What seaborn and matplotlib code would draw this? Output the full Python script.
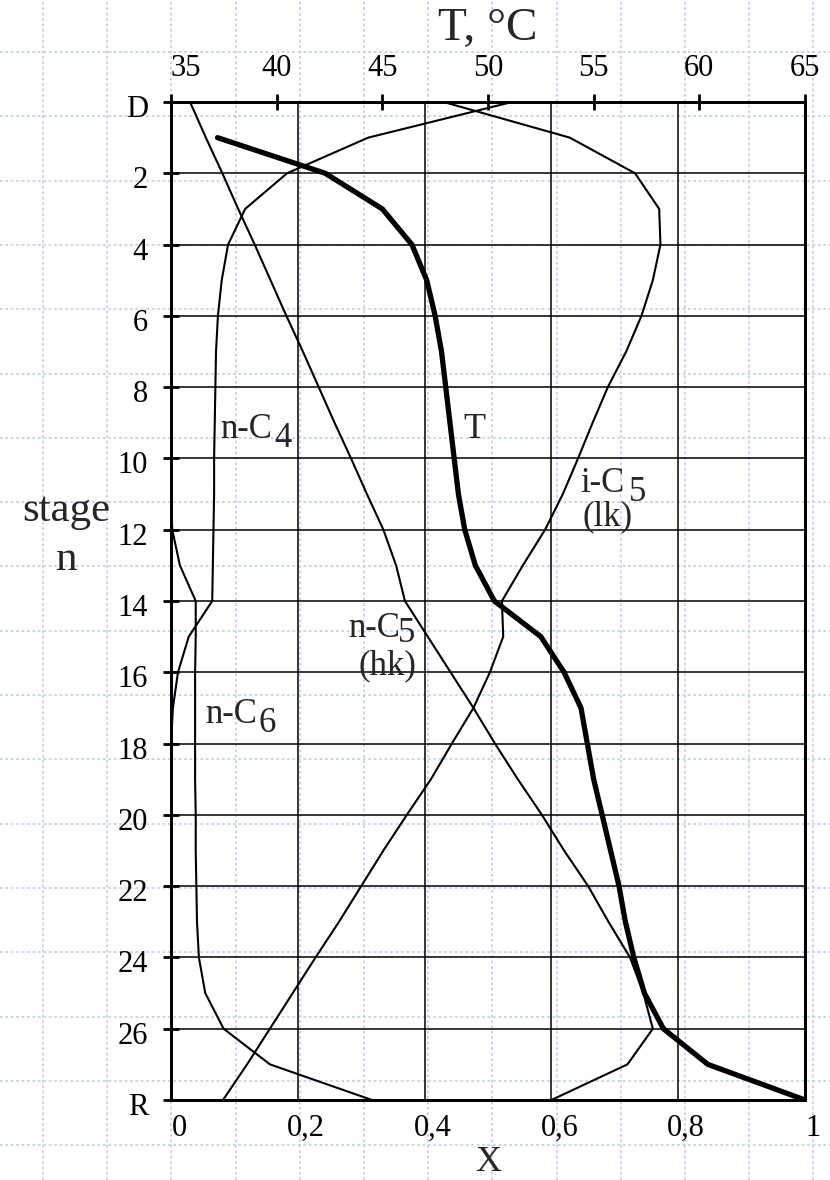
import matplotlib
matplotlib.use("Agg")
import matplotlib.pyplot as plt
import matplotlib.transforms as mtransforms
import numpy as np
import pandas as pd
import seaborn as sns

# ---- column profile data -------------------------------------------------
stages = list(range(29))                      # D = 0 ... R = 28
stage_ticks = list(range(0, 29, 2))
stage_labels = ["D"] + [str(s) for s in range(2, 28, 2)] + ["R"]
x_ticks = [0, 0.2, 0.4, 0.6, 0.8, 1.0]
x_tick_labels = ["0", "0,2", "0,4", "0,6", "0,8", "1"]
t_ticks = [35, 40, 45, 50, 55, 60, 65]

# liquid mole fractions on each stage
x_nC4 = [0.538, 0.311, 0.183, 0.117, 0.090, 0.080, 0.074, 0.071, 0.070, 0.069,
         0.068, 0.068, 0.067, 0.066, 0.065, 0.028, 0.011, 0.003, 0.0, 0.0,
         0.0, 0.0, 0.0, 0.0, 0.0, 0.0, 0.0, 0.0, 0.0]
x_iC5 = [0.430, 0.629, 0.732, 0.770, 0.772, 0.760, 0.742, 0.718, 0.689, 0.665,
         0.642, 0.618, 0.590, 0.555, 0.522, 0.524, 0.503, 0.477, 0.443, 0.410,
         0.372, 0.335, 0.300, 0.265, 0.228, 0.192, 0.156, 0.120, 0.082]
x_nC5 = [0.030, 0.055, 0.081, 0.106, 0.132, 0.157, 0.182, 0.208, 0.233, 0.258,
         0.284, 0.309, 0.335, 0.355, 0.369, 0.405, 0.441, 0.477, 0.511, 0.547,
         0.585, 0.620, 0.658, 0.690, 0.724, 0.745, 0.760, 0.720, 0.600]
x_nC6 = [0.0, 0.0, 0.0, 0.0, 0.0, 0.0, 0.0, 0.0, 0.0, 0.0,
         0.0, 0.0, 0.002, 0.014, 0.039, 0.039, 0.038, 0.038, 0.038, 0.038,
         0.039, 0.039, 0.040, 0.041, 0.044, 0.054, 0.083, 0.156, 0.317]

# stage temperature, deg C
t_stages = list(range(1, 29))
temp_C = [37.2, 42.3, 45.0, 46.4, 47.1, 47.5, 47.8, 48.0, 48.2, 48.4,
          48.6, 48.9, 49.4, 50.3, 52.5, 53.6, 54.4, 54.7, 55.0, 55.4,
          55.8, 56.2, 56.5, 56.9, 57.4, 58.3, 60.4, 65.0]

comp = pd.DataFrame({
    "stage": stages * 4,
    "x": x_nC4 + x_iC5 + x_nC5 + x_nC6,
    "component": ["n-C4"] * 29 + ["i-C5"] * 29 + ["n-C5"] * 29 + ["n-C6"] * 29,
})
temps = pd.DataFrame({"stage": t_stages, "T": temp_C})

# ---- style ---------------------------------------------------------------
sns.set_style("white")
plt.rcParams["font.family"] = ["Liberation Serif", "DejaVu Serif"]

W, H = 830, 1180
fig = plt.figure(figsize=(W / 100, H / 100), dpi=100)

# squared paper behind everything
bg = fig.add_axes([0, 0, 1, 1], zorder=-1)
bg.set_xlim(0, W)
bg.set_ylim(H, 0)
bg.axis("off")
paper = "#c3d1f3"
for px in np.arange(43, W, 64.2):
    bg.axvline(px, color=paper, lw=1.3, ls=(0, (1.5, 1.5)))
for py in np.arange(52, H, 64.3):
    bg.axhline(py, color=paper, lw=1.3, ls=(0, (1.5, 1.5)))

# main axes: composition x vs stage
ax = fig.add_axes([171 / W, 1 - 1100 / H, 634 / W, 998 / H], zorder=1)
ax.patch.set_visible(False)
sns.lineplot(data=comp, x="x", y="stage", units="component", estimator=None,
             sort=False, color="black", lw=1.5, ax=ax, legend=False)

ax.set_xlim(0, 1)
ax.set_ylim(28, 0)
ax.set_xticks(x_ticks)
ax.set_xticklabels(x_tick_labels)
ax.set_yticks(stage_ticks)
ax.set_yticklabels(stage_labels)
ax.grid(True, color="black", lw=1.1)
ax.set_axisbelow(True)
for s in ax.spines.values():
    s.set_visible(True)
    s.set_color("black")
    s.set_linewidth(2.0)

ax.tick_params(axis="x", length=0, labelsize=22, pad=10, colors="black")
ax.tick_params(axis="y", direction="inout", length=12, width=2, labelsize=22,
               pad=10.5, colors="black", left=True)
ax.set_xlabel("X", fontsize=26, labelpad=2)
ax.set_ylabel("stage\nn", fontsize=31, rotation=0, linespacing=1.35,
              ha="center", va="center")
ax.yaxis.set_label_coords(-0.165, 0.566)

# nudge tick labels as set in the original layout
shift_r = mtransforms.ScaledTranslation(8 / 100, 0, fig.dpi_scale_trans)
for lab in ax.get_xticklabels():
    lab.set_transform(lab.get_transform() + shift_r)
shift_d = mtransforms.ScaledTranslation(0, -4 / 100, fig.dpi_scale_trans)
for lab in ax.get_yticklabels():
    lab.set_transform(lab.get_transform() + shift_d)

# temperature on the top axis
axT = ax.twiny()
axT.set_zorder(2)
axT.patch.set_visible(False)
sns.lineplot(data=temps, x="T", y="stage", estimator=None, sort=False,
             color="black", lw=3.8, ax=axT, legend=False)
axT.set_xlim(35, 65)
axT.set_ylim(28, 0)
axT.set_xticks(t_ticks)
axT.set_xticklabels([str(t) for t in t_ticks])
axT.tick_params(axis="x", direction="inout", length=12, width=2, labelsize=22,
                pad=8, colors="black", top=True)
axT.set_xlabel("T, °C", fontsize=34, labelpad=10)
axT.set_ylabel("")
for s in axT.spines.values():
    s.set_color("black")
    s.set_linewidth(2.0)
axT.get_xticklabels()[0].set_ha("left")

# curve names
def species(x, y, base, sub, gap, drop=-9):
    t = ax.text(x, y, base, fontsize=25, ha="left", va="baseline")
    ax.annotate(sub, xy=(1, 0), xycoords=t, xytext=(gap, drop),
                textcoords="offset pixels", fontsize=25, ha="left", va="bottom")

species(0.077, 9.43, "n-C", "4", 3)
species(0.645, 10.94, "i-C", "5", 5)
species(0.279, 15.01, "n-C", "5", -2, drop=-5)
species(0.054, 17.42, "n-C", "6", 1)
ax.text(0.689, 11.87, "(lk)", fontsize=25, ha="center", va="baseline")
ax.text(0.341, 16.05, "(hk)", fontsize=25, ha="center", va="baseline")
ax.text(0.478, 9.2, "T", fontsize=26, ha="center", va="center")

fig.savefig("out.png", dpi=100)
